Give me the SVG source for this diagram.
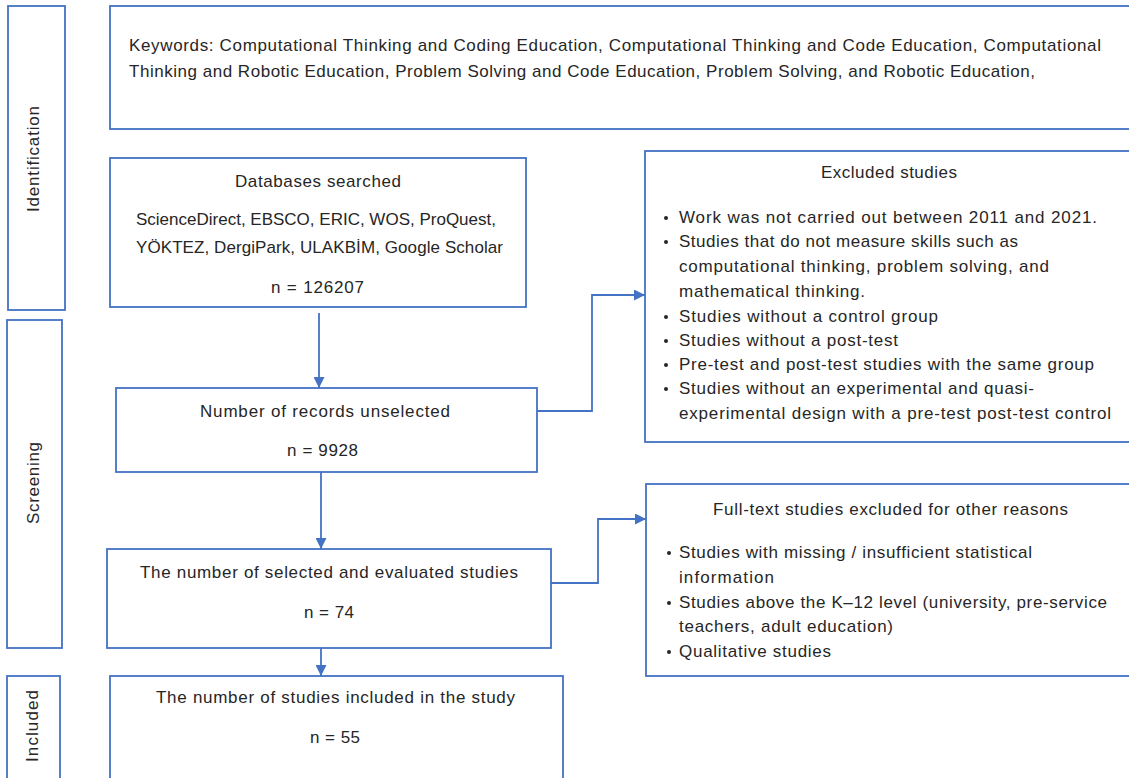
<svg xmlns="http://www.w3.org/2000/svg" width="1129" height="778" viewBox="0 0 1129 778">
<style>
  .box { fill: #ffffff; stroke: #4472C4; stroke-width: 1.8; }
  .conn { fill: none; stroke: #4472C4; stroke-width: 1.8; }
  text { font-family: "Liberation Sans", Arial, sans-serif; font-size: 17px; fill: #262626; }
  .side { font-size: 17px; }
</style>
<defs>
  <marker id="arr" viewBox="0 0 10 10" refX="10" refY="5" markerWidth="11" markerHeight="11" markerUnits="userSpaceOnUse" orient="auto">
    <path d="M0,0 L10,5 L0,10 z" fill="#4472C4"/>
  </marker>
</defs>
<rect width="1129" height="778" fill="#ffffff"/>

<g id="stage-identification">
  <rect class="box" x="8" y="6" width="57" height="304"/>
  <text class="side" transform="translate(39,159) rotate(-90)" text-anchor="middle" textLength="106">Identification</text>
</g>
<g id="stage-screening">
  <rect class="box" x="7" y="320" width="55" height="328"/>
  <text class="side" transform="translate(39,483) rotate(-90)" text-anchor="middle" textLength="82">Screening</text>
</g>
<g id="stage-included">
  <rect class="box" x="7" y="676" width="53" height="120"/>
  <text class="side" transform="translate(38,726) rotate(-90)" text-anchor="middle" textLength="72">Included</text>
</g>

<g id="keywords">
  <rect class="box" x="110" y="6" width="1040" height="123"/>
  <text x="129" y="51" textLength="972">Keywords: Computational Thinking and Coding Education, Computational Thinking and Code Education, Computational</text>
  <text x="129" y="77" textLength="906">Thinking and Robotic Education, Problem Solving and Code Education, Problem Solving, and Robotic Education,</text>
</g>

<g id="databases">
  <rect class="box" x="110" y="158" width="416" height="149"/>
  <text x="235" y="187" textLength="166">Databases searched</text>
  <text x="136" y="225" textLength="360">ScienceDirect, EBSCO, ERIC, WOS, ProQuest,</text>
  <text x="136" y="253" textLength="367">YÖKTEZ, DergiPark, ULAKBİM, Google Scholar</text>
  <text x="271" y="293" textLength="93">n = 126207</text>
</g>

<g id="unselected">
  <rect class="box" x="116" y="388" width="421" height="84"/>
  <text x="200" y="417" textLength="250">Number of records unselected</text>
  <text x="287" y="456" textLength="71">n = 9928</text>
</g>

<g id="selected">
  <rect class="box" x="107" y="549" width="444" height="99"/>
  <text x="140" y="578" textLength="378">The number of selected and evaluated studies</text>
  <text x="304" y="618" textLength="50">n = 74</text>
</g>

<g id="included">
  <rect class="box" x="110" y="676" width="453" height="120"/>
  <text x="156" y="703" textLength="359">The number of studies included in the study</text>
  <text x="310" y="743" textLength="50">n = 55</text>
</g>

<g id="excluded">
  <rect class="box" x="645" y="151" width="500" height="291"/>
  <text x="821" y="178" textLength="136">Excluded studies</text>
  <g>
    <circle cx="666" cy="218" r="2" fill="#262626"/>
    <text x="679" y="223" textLength="418">Work was not carried out between 2011 and 2021.</text>
    <circle cx="666" cy="242" r="2" fill="#262626"/>
    <text x="679" y="247" textLength="339">Studies that do not measure skills such as</text>
    <text x="679" y="272" textLength="370">computational thinking, problem solving, and</text>
    <text x="679" y="297" textLength="186">mathematical thinking.</text>
    <circle cx="666" cy="317" r="2" fill="#262626"/>
    <text x="679" y="322" textLength="259">Studies without a control group</text>
    <circle cx="666" cy="341" r="2" fill="#262626"/>
    <text x="679" y="346" textLength="219">Studies without a post-test</text>
    <circle cx="666" cy="365" r="2" fill="#262626"/>
    <text x="679" y="370" textLength="415">Pre-test and post-test studies with the same group</text>
    <circle cx="666" cy="389" r="2" fill="#262626"/>
    <text x="679" y="394" textLength="355">Studies without an experimental and quasi-</text>
    <text x="679" y="419" textLength="432">experimental design with a pre-test post-test control</text>
  </g>
</g>

<g id="fulltext-excluded">
  <rect class="box" x="646" y="484" width="500" height="192"/>
  <text x="713" y="515" textLength="355">Full-text studies excluded for other reasons</text>
  <circle cx="669" cy="553" r="2" fill="#262626"/>
  <text x="679" y="558" textLength="353">Studies with missing / insufficient statistical</text>
  <text x="679" y="583" textLength="95">information</text>
  <circle cx="669" cy="603" r="2" fill="#262626"/>
  <text x="679" y="608" textLength="428">Studies above the K–12 level (university, pre-service</text>
  <text x="679" y="632" textLength="214">teachers, adult education)</text>
  <circle cx="669" cy="652" r="2" fill="#262626"/>
  <text x="679" y="657" textLength="152">Qualitative studies</text>
</g>

<g id="connectors">
  <path class="conn" d="M319 313 V388" marker-end="url(#arr)"/>
  <path class="conn" d="M537 411 H592 V295 H645" marker-end="url(#arr)"/>
  <path class="conn" d="M321 472 V549" marker-end="url(#arr)"/>
  <path class="conn" d="M551 583 H598 V519 H646" marker-end="url(#arr)"/>
  <path class="conn" d="M321 648 V676" marker-end="url(#arr)"/>
</g>
</svg>
